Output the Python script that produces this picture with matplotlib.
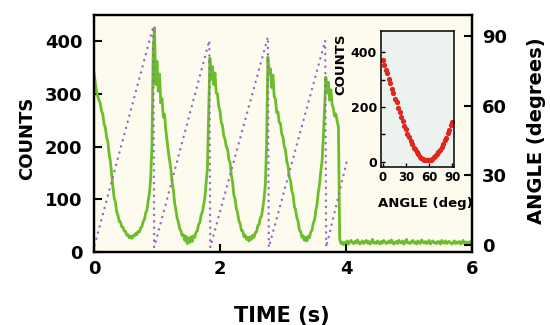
import numpy as np
import matplotlib
matplotlib.use("Agg")
import matplotlib.pyplot as plt

plt.rcParams['font.family'] = 'DejaVu Sans'
plt.rcParams['font.weight'] = 'bold'

# detector counts, one sample every 0.02 s from t = 0 to 6 s
counts = [
    340, 322, 304, 296, 288, 282, 268, 261, 243, 236,
    218, 209, 186, 172, 148, 124, 103, 95, 76, 70,
    58, 57, 48, 47, 40, 39, 32, 33, 27, 30,
    26, 31, 30, 35, 33, 39, 38, 46, 48, 58,
    61, 74, 79, 97, 112, 140, 205, 385,
    426, 318, 362, 305, 338, 283, 291, 256, 262, 231,
    212, 190, 174, 158, 132, 118, 93, 80, 64, 57,
    44, 40, 31, 33, 22, 30, 16, 27, 18, 29,
    20, 31, 28, 38, 40, 52, 56, 70, 76, 90,
    103, 132, 158, 265,
    368, 328, 352, 318, 340, 302, 300, 276, 268, 246,
    240, 220, 214, 200, 196, 176, 170, 146, 133, 108,
    100, 82, 74, 59, 54, 41, 40, 29, 32, 24,
    28, 21, 29, 24, 32, 28, 37, 38, 50, 52,
    65, 68, 85, 102, 128, 205,
    370, 338, 348, 312, 336, 296, 290, 265, 266, 246,
    244, 224, 218, 200, 194, 172, 163, 142, 135, 116,
    108, 87, 80, 65, 58, 42, 39, 28, 31, 22,
    28, 21, 30, 27, 38, 41, 55, 60, 78, 90,
    113, 128, 153, 172, 218, 272,
    332, 302, 322, 288, 308, 280, 272, 258, 262, 248,
    238,
    24, 16, 19, 14, 18, 17, 21, 15, 19, 22,
    18, 16, 20, 17, 23, 19, 15, 18, 21, 16,
    19, 22, 17, 20, 15, 18, 24, 17, 19, 16,
    21, 18, 15, 20, 17, 22, 19, 16, 18, 21,
    17, 23, 18, 15, 19, 20, 16, 22, 18, 17,
    21, 15, 19, 24, 17, 18, 16, 20, 22, 17,
    19, 15, 21, 18, 16, 23, 19, 17, 20, 16,
    18, 22, 15, 19, 21, 17, 18, 16, 20, 19,
    15, 22, 18, 17, 21, 16, 19, 20, 17, 15,
    18, 21, 16, 19, 17, 20, 15, 18, 22, 16,
    19, 17, 18, 16, 20, 17,
]
dt = 0.02
time = np.arange(len(counts)) * dt

# polarizer angle (sawtooth corners)
angle_time = [0.01, 0.94, 0.955, 1.83, 1.845, 2.76, 2.775, 3.67, 3.685, 4.03]
angle_deg = [0, 94, -1, 88, -1, 89.5, -1, 88, -1, 38]

# inset: counts vs angle
inset_angle = np.arange(0, 92, 2)
inset_counts = [372, 352, 336, 324, 301, 289, 266, 253, 230, 218,
                196, 183, 163, 150, 131, 119, 101, 90, 76, 66,
                52, 45, 34, 28, 19, 15, 10, 8, 5, 5,
                6, 8, 11, 16, 21, 27, 36, 44, 55, 64,
                78, 88, 104, 116, 134, 146]

W, H = 550, 325
fig = plt.figure(figsize=(5.5, 3.25), dpi=100)
fig.patch.set_facecolor('white')

ax = fig.add_axes([94 / W, 1 - 252 / H, 378 / W, 237 / H])
ax.set_facecolor('#fcfbee')
ax.plot(time, counts, color='#6cbd2c', lw=2.0)
ax.set_xlim(0, 6)
ax.set_ylim(0, 450)
ax.set_xticks([0, 2, 4, 6])
ax.set_yticks([0, 100, 200, 300, 400])
ax.tick_params(direction='in', length=6, width=1.5, labelsize=13)
ax.tick_params(axis='x', pad=5.5)
ax.tick_params(axis='y', pad=8.5)
for s in ax.spines.values():
    s.set_linewidth(1.6)

ax2 = ax.twinx()
ax2.plot(angle_time, angle_deg, color='#9566cc', lw=1.7,
         ls=(0, (0.1, 2.6)), dash_capstyle='round')
ax2.set_ylim(-3, 99)
ax2.set_yticks([0, 30, 60, 90])
ax2.tick_params(direction='in', length=6, width=1.5, labelsize=13, pad=7)
for s in ax2.spines.values():
    s.set_linewidth(1.6)

fig.text(27 / W, 1 - 138 / H, 'COUNTS', rotation=90, ha='center', va='center',
         fontsize=13, fontweight='bold')
fig.text(282 / W, 1 - 316 / H, 'TIME (s)', ha='center', va='center',
         fontsize=15, fontweight='bold')
fig.text(536 / W, 1 - 131 / H, 'ANGLE (degrees)', rotation=90, ha='center',
         va='center', fontsize=14, fontweight='bold')

axi = fig.add_axes([381 / W, 1 - 167 / H, 73 / W, 136 / H])
axi.set_facecolor('#ecf3ee')
axi.plot(inset_angle, inset_counts, 'o', color='#e0261e', ms=3.8, mec='none')
axi.set_xlim(-2, 92)
axi.set_ylim(-19, 478)
axi.set_xticks([0, 30, 60, 90])
axi.set_yticks([0, 100, 200, 300, 400])
axi.set_yticklabels(['0', '', '200', '', '400'])
axi.tick_params(direction='in', length=3, width=1, labelsize=9, pad=3)
axi.tick_params(axis='x', labelsize=8.5)
for s in axi.spines.values():
    s.set_linewidth(1.1)

fig.text(341 / W, 1 - 64 / H, 'COUNTS', rotation=90, ha='center', va='center',
         fontsize=9.5, fontweight='bold')
fig.text(425 / W, 1 - 203 / H, 'ANGLE (deg)', ha='center', va='center',
         fontsize=9.5, fontweight='bold')

fig.savefig('out.png', dpi=100)
